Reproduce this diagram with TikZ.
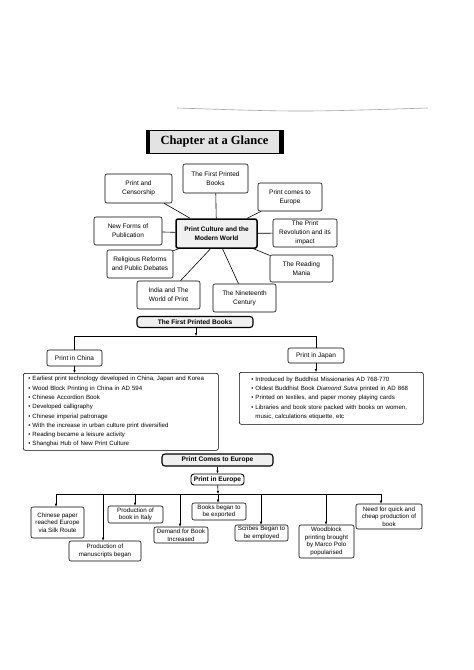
\documentclass[tikz,border=0pt]{standalone}
\usepackage{fontspec}
\setmainfont{Liberation Sans}
\newfontfamily\titlefont{Liberation Serif}
\usetikzlibrary{arrows.meta}
\begin{document}
\begin{tikzpicture}[x=1pt,y=-1pt,
  mbox/.style={draw, rounded corners=2pt, line width=0.6pt, align=center, inner sep=1pt,
    font=\fontsize{6.5}{8.7}\selectfont},
  ebox/.style={draw, rounded corners=2pt, line width=0.6pt, align=center, inner sep=1pt,
    font=\fontsize{6.2}{7.6}\selectfont},
  hbox/.style={draw, rounded corners=3pt, line width=1.1pt, align=center, inner sep=1pt,
    fill=gray!12, font=\bfseries\fontsize{6.6}{7}\selectfont},
  lbox/.style={draw, rounded corners=2pt, line width=0.6pt, align=left, inner ysep=3pt,
    font=\fontsize{6.1}{9.3}\selectfont},
  conn/.style={line width=0.6pt},
  arr/.style={line width=0.6pt, -{Latex[length=3pt,width=2.6pt]}}
]
\useasboundingbox (0,0) rectangle (474,670);
\fill[white] (0,0) rectangle (474,670);
% scan line at top
\draw[gray!70, line width=0.6pt] (177,108) .. controls (300,112) .. (428,108);

% title
\node[draw, fill=gray!22, minimum width=137pt, minimum height=23pt, inner sep=0pt,
  font=\titlefont\bfseries\fontsize{12.5}{13}\selectfont] (title) at (214.5,141.5) {Chapter at a Glance};
\fill[black] (title.north west) rectangle ([xshift=4pt]title.south west);
\fill[black] ([xshift=-4pt]title.north east) rectangle (title.south east);

% mind map
\node[mbox, line width=1.5pt, fill=gray!12, minimum width=81pt, minimum height=29pt,
  font=\bfseries\fontsize{6.5}{9}\selectfont] (cen) at (216.5,233.5) {Print Culture and the\\Modern World};
\node[mbox, minimum width=65pt, minimum height=29pt] (fpb) at (215.5,178.5) {The First Printed\\Books};
\node[mbox, minimum width=67pt, minimum height=29pt] (pcs) at (138.5,188.5) {Print and\\Censorship};
\node[mbox, minimum width=64pt, minimum height=28pt] (pce) at (290,197) {Print comes to\\Europe};
\node[mbox, minimum width=68pt, minimum height=28pt] (nfp) at (128,231) {New Forms of\\Publication};
\node[mbox, minimum width=64pt, minimum height=28pt] (tpr) at (305,233) {The Print\\Revolution and its\\impact};
\node[mbox, minimum width=66pt, minimum height=28pt] (rrp) at (140,264) {Religious Reforms\\and Public Debates};
\node[mbox, minimum width=63pt, minimum height=27pt] (trm) at (301.5,268.5) {The Reading\\Mania};
\node[mbox, minimum width=63pt, minimum height=28pt] (iwp) at (168.5,295) {India and The\\World of Print};
\node[mbox, minimum width=63pt, minimum height=28pt] (tnc) at (244.5,298) {The Nineteenth\\Century};

\draw[conn] (cen) -- (fpb);
\draw[conn] (cen) -- (pcs);
\draw[conn] (cen) -- (pce);
\draw[conn] (cen) -- (nfp);
\draw[conn] (cen) -- (tpr);
\draw[conn] (cen) -- (rrp);
\draw[conn] (cen) -- (trm);
\coordinate (c1) at ([xshift=-6pt]cen.south);
\coordinate (c2) at ([xshift=6pt]cen.south);
\draw[conn] (c1) -- ([xshift=12pt]iwp.north);
\draw[conn] (c2) -- ([xshift=-6pt]tnc.north);

% First printed books
\node[hbox, minimum width=116pt, minimum height=11pt] (fh1) at (195,322) {The First Printed Books};
\coordinate (j1) at (196,336);
\coordinate (jl) at (74,336);
\coordinate (jr) at (316,336);
\draw[arr] (fh1.south -| j1) -- (j1);
\draw[conn] (jl) -- (jr);
\node[mbox, minimum width=55pt, minimum height=16pt] (china) at (74.5,358) {Print in China};
\node[mbox, minimum width=56pt, minimum height=15pt] (japan) at (316,355.5) {Print in Japan};
\draw[conn] (jl) -- (jl |- china.north);
\draw[conn] (jr) -- (jr |- japan.north);

\node[lbox, inner xsep=5pt, text width=185pt, minimum height=77pt, anchor=north west] (clist) at (23,373) {%
\textbullet\ Earliest print technology developed in China, Japan and Korea\\
\textbullet\ Wood Block Printing in China in AD 594\\
\textbullet\ Chinese Accordion Book\\
\textbullet\ Developed calligraphy\\
\textbullet\ Chinese imperial patronage\\
\textbullet\ With the increase in urban culture print diversified\\
\textbullet\ Reading became a leisure activity\\
\textbullet\ Shanghai Hub of New Print Culture};
\node[lbox, inner xsep=12pt, text width=160pt, minimum height=52pt, anchor=north west] (jlist) at (239,372) {%
\textbullet\ Introduced by Buddhist Missionaries AD 768-770\\
\textbullet\ Oldest Buddhist Book \textit{Diamond Sutra} printed in AD 868\\
\textbullet\ Printed on textiles, and paper money playing cards\\
\textbullet\ Libraries and book store packed with books on women,\\
\phantom{\textbullet\ }music, calculations etiquette, etc};
\draw[arr] (china.south) -- (china.south |- clist.north);
\draw[arr] (japan.south) -- (japan.south |- jlist.north);

% Print comes to Europe
\node[hbox, minimum width=111pt, minimum height=12pt] (fh2) at (217.5,460) {Print Comes to Europe};
\node[hbox, fill=white, line width=0.9pt, minimum width=53pt, minimum height=11pt] (pie) at (217.5,479.5) {Print in Europe};
\draw[arr] (fh2) -- (pie);
\coordinate (bar) at (218,494);
\draw[arr] (pie) -- (bar);
\coordinate (b1) at (56,494);
\coordinate (b2) at (103,494);
\coordinate (b3) at (135,494);
\coordinate (b4) at (180,494);
\coordinate (b6) at (261,494);
\coordinate (b7) at (326,494);
\coordinate (b8) at (381,494);
\draw[conn] (b1) -- (b8);

\node[ebox, minimum width=53pt, minimum height=31pt] (e1) at (57.5,522.5) {Chinese paper\\reached Europe\\via Silk Route};
\node[ebox, minimum width=72pt, minimum height=20pt] (e2) at (105,551) {Production of\\manuscripts began};
\node[ebox, minimum width=55pt, minimum height=17pt] (e3) at (135.5,514.5) {Production of\\book in Italy};
\node[ebox, minimum width=54pt, minimum height=16pt] (e4) at (181,535) {Demand for Book\\Increased};
\node[ebox, minimum width=54pt, minimum height=17pt] (e5) at (219,511.5) {Books began to\\be exported};
\node[ebox, minimum width=53pt, minimum height=16pt] (e6) at (261.5,533) {Scribes Began to\\be employed};
\node[ebox, minimum width=55pt, minimum height=33pt] (e7) at (326.5,541.5) {Woodblock\\printing brought\\by Marco Polo\\popularised};
\node[ebox, minimum width=66pt, minimum height=25pt] (e8) at (389,516.5) {Need for quick and\\cheap production of\\book};

\draw[arr] (b1) -- (b1 |- e1.north);
\draw[arr] (b2) -- (b2 |- e2.north);
\draw[arr] (b3) -- (b3 |- e3.north);
\draw[arr] (b4) -- (b4 |- e4.north);
\draw[arr] (bar) -- (bar |- e5.north);
\draw[arr] (b6) -- (b6 |- e6.north);
\draw[arr] (b7) -- (b7 |- e7.north);
\draw[arr] (b8) -- (b8 |- e8.north);
\end{tikzpicture}
\end{document}
